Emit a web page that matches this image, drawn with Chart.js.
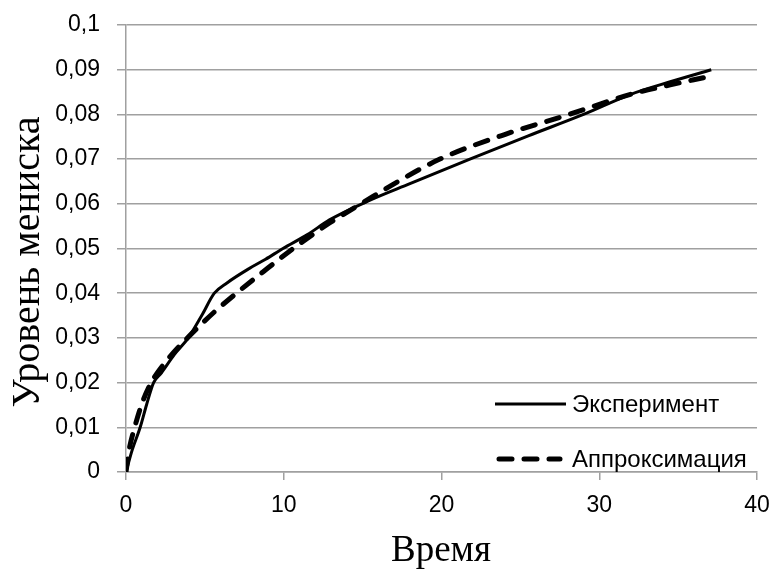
<!DOCTYPE html>
<html>
<head>
<meta charset="utf-8">
<script src="https://cdn.jsdelivr.net/npm/chart.js@4.4.1/dist/chart.umd.min.js"></script>
<style>
html,body{margin:0;padding:0;background:#fff;}
#wrap{width:775px;height:574px;}
</style>
</head>
<body>
<div id="wrap"><canvas id="c" width="775" height="574"></canvas></div>
<script>
// ---- data ----
const seriesNames = ['Эксперимент', 'Аппроксимация'];
const xTitle = 'Время';
const yTitle = 'Уровень мениска';

const expT = [0, 0.4, 0.9, 1.3, 1.75, 2.25, 3.05, 3.95, 4.8, 5.6, 6.4, 7.8, 8.85, 9.95, 11.5, 12.9, 15.4, 18, 21.8, 25.5, 29, 32, 34.5, 37.1];
const expY = [0, 0.005, 0.01, 0.015, 0.02, 0.0222, 0.0262, 0.03, 0.035, 0.04, 0.0423, 0.0455, 0.0476, 0.05, 0.0531, 0.0564, 0.0607, 0.0645, 0.07, 0.0752, 0.08, 0.0845, 0.0873, 0.09];

const apxT = [0, 0.2, 0.55, 1, 1.6, 2.55, 3.95, 5.6, 7, 8.7, 10.6, 12.9, 14.9, 17.3, 19.9, 24, 28.1, 32, 34.5, 36.6];
const apxY = [0, 0.005, 0.01, 0.0152, 0.02, 0.0248, 0.0302, 0.0358, 0.04, 0.0448, 0.05, 0.0557, 0.06, 0.0651, 0.07, 0.0755, 0.08, 0.0845, 0.0866, 0.0882];

const xTicks = [0, 10, 20, 30, 40];
const yTicks = [0, 0.01, 0.02, 0.03, 0.04, 0.05, 0.06, 0.07, 0.08, 0.09, 0.1];

const toPts = (xs, ys) => xs.map((x, i) => ({x: x, y: ys[i]}));
const fmt = v => String(Math.round(v * 1000) / 1000).replace('.', ',');

const GRID = '#a0a0a0';
const TICKFONT = {family: "'Liberation Sans', Arial, sans-serif", size: 23};

const dashPattern = [13, 12];

const overlay = {
  id: 'overlay',
  afterDraw(chart) {
    const ctx = chart.ctx;
    ctx.save();
    // axis titles
    ctx.fillStyle = '#000';
    ctx.textAlign = 'center';
    ctx.textBaseline = 'alphabetic';
    ctx.font = "37px 'Liberation Serif', 'Times New Roman', serif";
    ctx.fillText(xTitle, 441, 561);
    ctx.save();
    ctx.font = "40px 'Liberation Serif', 'Times New Roman', serif";
    ctx.translate(39, 262);
    ctx.rotate(-Math.PI / 2);
    ctx.fillText(yTitle, 0, 0);
    ctx.restore();

    // legend inside plot, bottom right
    const ds = chart.data.datasets;
    const rows = [404, 459];
    ctx.font = "24px 'Liberation Sans', Arial, sans-serif";
    ctx.textAlign = 'left';
    ctx.textBaseline = 'middle';
    ds.forEach((d, i) => {
      const y = rows[i];
      ctx.save();
      ctx.strokeStyle = d.borderColor;
      ctx.lineWidth = d.borderWidth;
      ctx.lineCap = d.borderCapStyle || 'butt';
      ctx.setLineDash(d.borderDash || []);
      ctx.beginPath();
      if (d.borderDash && d.borderDash.length) {
        ctx.moveTo(499, y); ctx.lineTo(560, y);
      } else {
        ctx.moveTo(495, y); ctx.lineTo(566, y);
      }
      ctx.stroke();
      ctx.restore();
      ctx.fillStyle = '#000';
      ctx.fillText(d.label, 572, y + 1);
    });
    ctx.restore();
  }
};

new Chart(document.getElementById('c'), {
  type: 'line',
  data: {
    datasets: [
      {
        label: seriesNames[0],
        data: toPts(expT, expY),
        borderColor: '#000',
        borderWidth: 3,
        pointRadius: 0,
        cubicInterpolationMode: 'monotone',
        fill: false
      },
      {
        label: seriesNames[1],
        data: toPts(apxT, apxY),
        borderColor: '#000',
        borderWidth: 5,
        borderDash: dashPattern,
        borderCapStyle: 'round',
        pointRadius: 0,
        cubicInterpolationMode: 'monotone',
        fill: false
      }
    ]
  },
  options: {
    responsive: false,
    animation: false,
    devicePixelRatio: 1,
    layout: {padding: {left: 0, right: 18, top: 25, bottom: 0}},
    plugins: {legend: {display: false}, tooltip: {enabled: false}},
    scales: {
      x: {
        type: 'linear',
        min: 0, max: 40,
        afterBuildTicks: s => { s.ticks = xTicks.map(v => ({value: v})); },
        afterFit: s => { s.height = 102; s.paddingLeft = 0; s.paddingRight = 0; },
        ticks: {color: '#000', font: TICKFONT, padding: 12, maxRotation: 0, callback: v => fmt(v)},
        grid: {drawOnChartArea: false, drawTicks: true, tickLength: 8, color: GRID, lineWidth: 1.5},
        border: {display: true, color: GRID, width: 1.5}
      },
      y: {
        type: 'linear',
        min: 0, max: 0.1,
        afterBuildTicks: s => { s.ticks = yTicks.map(v => ({value: v})); },
        afterFit: s => { s.width = 126; s.paddingTop = 0; s.paddingBottom = 0; },
        ticks: {color: '#000', font: TICKFONT, padding: 17, callback: v => fmt(v)},
        grid: {drawOnChartArea: true, drawTicks: true, tickLength: 9, color: GRID, lineWidth: 1.5},
        border: {display: true, color: GRID, width: 1.5}
      }
    }
  },
  plugins: [overlay]
});
</script>
</body>
</html>
